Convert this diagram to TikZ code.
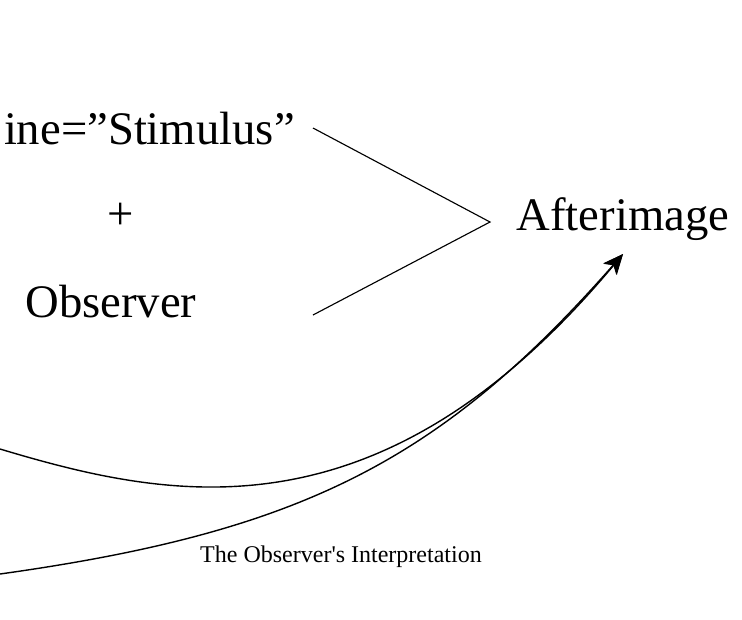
\documentclass[tikz,border=0pt]{standalone}
\usepackage{fontspec}
\setmainfont{Liberation Serif}
\usetikzlibrary{arrows.meta}
\begin{document}
\begin{tikzpicture}[x=0.75pt,y=-0.75pt,
  bigtxt/.style={font=\fontsize{35}{40}\selectfont, inner sep=0pt},
  smalltxt/.style={font=\fontsize{18}{21}\selectfont, inner sep=0pt},
  conn/.style={line width=0.85pt},
  flow/.style={line width=1.05pt, -{Stealth[length=15pt,width=13pt,inset=4pt]}}]
\useasboundingbox (0,0) rectangle (742,619);
\node[bigtxt, anchor=base east] (stim) at (295,144) {ine=”Stimulus”};
\node[bigtxt, anchor=base] (plus) at (121,229) {+};
\node[bigtxt, anchor=base] (obs) at (111,317) {Observer};
\node[bigtxt, anchor=base] (after) at (623,230) {Afterimage};
\node[smalltxt, anchor=base] (interp) at (341,562) {The Observer\textquotesingle s Interpretation};
\coordinate (s1) at (313,128);
\coordinate (o1) at (313,315);
\coordinate (apex) at (490,222);
\coordinate (tip) at (623,254);
\coordinate (c1) at (0,449);
\coordinate (c2) at (0,574);
\draw[conn] (s1) -- (apex) -- (o1);
\draw[flow] (c1) .. controls (170,500) and (380,545) .. (tip);
\draw[flow] (c2) .. controls (300,532) and (440,462) .. (tip);
\end{tikzpicture}
\end{document}
